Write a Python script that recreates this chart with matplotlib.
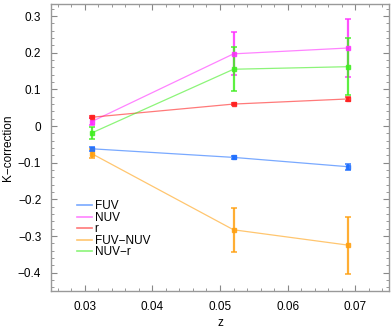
import matplotlib
matplotlib.use("Agg")
import matplotlib.pyplot as plt
from matplotlib.ticker import MultipleLocator
from matplotlib.lines import Line2D

plt.rcParams['font.family'] = ['Liberation Sans', 'DejaVu Sans']

z = [0.031, 0.052, 0.069]
series_names = ["FUV", "NUV", "r", "FUV\u2212NUV", "NUV\u2212r"]
colors = ["#2070ff", "#ff30ff", "#ff2020", "#ffa010", "#40ee20"]
fuv = [-0.062, -0.0855, -0.111]
fuv_err = [0.005, 0.004, 0.008]
nuv = [0.012, 0.197, 0.213]
nuv_err = [0.010, 0.059, 0.078]
r = [0.024, 0.060, 0.074]
r_err = [0.003, 0.003, 0.005]
fuv_nuv = [-0.075, -0.283, -0.325]
fuv_nuv_err = [0.012, 0.060, 0.078]
nuv_r = [-0.019, 0.155, 0.162]
nuv_r_err = [0.016, 0.060, 0.078]

values = [fuv, nuv, r, fuv_nuv, nuv_r]
errors = [fuv_err, nuv_err, r_err, fuv_nuv_err, nuv_r_err]

fig = plt.figure(figsize=(3.91, 3.32), dpi=100)
ax = fig.add_axes([51/391, 41/332, 338/391, 287/332])

for name, c, v, e in zip(series_names, colors, values, errors):
    ax.plot(z, v, color=c, lw=0.9, alpha=0.6, zorder=2)
    ax.errorbar(z, v, yerr=e, fmt='s', color=c, ms=2.5, elinewidth=1.6,
                capsize=2.0, capthick=1.2, alpha=0.85, zorder=3)

ax.set_xlim(0.025, 0.075)
ax.set_ylim(-0.45, 0.333)
ax.xaxis.set_major_locator(MultipleLocator(0.01))
ax.xaxis.set_minor_locator(MultipleLocator(0.002))
ax.yaxis.set_major_locator(MultipleLocator(0.1))
ax.yaxis.set_minor_locator(MultipleLocator(0.02))
ax.xaxis.set_major_formatter(matplotlib.ticker.FuncFormatter(lambda v, p: f"{v:.2f}"))
def yfmt(v, p):
    if abs(v) < 1e-9:
        return "0"
    return f"{v:.1f}".replace("-", "\u2212")
ax.yaxis.set_major_formatter(matplotlib.ticker.FuncFormatter(yfmt))

ax.tick_params(which='both', direction='in', top=True, right=True,
               color='#888888', labelsize=8.5, pad=7)
ax.tick_params(which='major', length=4, width=0.8)
ax.tick_params(which='minor', length=2, width=0.6)
for s in ax.spines.values():
    s.set_color('#999999')
    s.set_linewidth(1.0)

ax.set_xlabel("z", fontsize=8.5, labelpad=3)
ax.set_ylabel("K\u2212correction", fontsize=8.5, labelpad=3)

handles = [Line2D([0], [0], color=c, lw=1.2, alpha=0.6) for c in colors]
ax.legend(handles, series_names, loc='center left', bbox_to_anchor=(0.063, 0.215),
          frameon=False, fontsize=8.5, handlelength=1.25, handletextpad=0.25,
          labelspacing=-0.04, borderaxespad=0)

fig.savefig("out.png", dpi=100)
